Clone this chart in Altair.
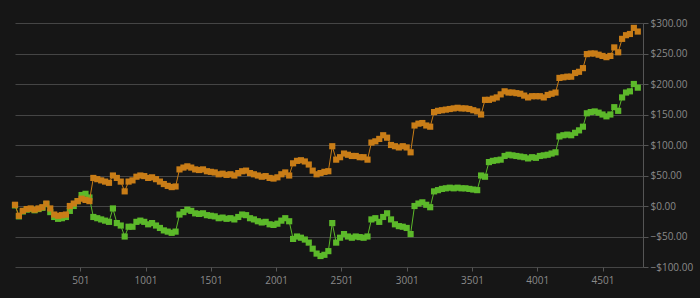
import altair as alt
import pandas as pd

trade = list(range(1, 4772, 30))

orange = [2, -16, -8, -5, -4, -6, -4, -2, 4, -4,
          -14, -16, -15, -14, 0, 4, 8, 12, 10, 8,
          46, 44, 42, 40, 38, 50, 46, 40, 24, 40,
          42, 48, 50, 49, 46, 47, 44, 40, 36, 33,
          31, 32, 60, 63, 65, 63, 60, 59, 60, 57,
          56, 55, 52, 53, 51, 52, 50, 54, 57, 58,
          54, 52, 50, 48, 49, 46, 45, 47, 52, 55,
          50, 70, 74, 75, 73, 68, 58, 52, 54, 56,
          57, 98, 76, 80, 86, 84, 82, 82, 80, 80,
          76, 104, 106, 110, 116, 112, 100, 98, 96, 98,
          96, 88, 132, 135, 136, 132, 130, 154, 156, 157,
          158, 159, 160, 161, 160, 160, 159, 157, 155, 150,
          174, 174, 176, 178, 183, 188, 186, 186, 185, 184,
          181, 178, 180, 180, 180, 178, 182, 184, 186, 210,
          211, 212, 212, 218, 220, 226, 249, 250, 250, 248,
          246, 244, 246, 260, 252, 274, 280, 282, 292, 286]

green = [1, -17, -9, -6, -5, -7, -5, -3, 3, -10,
         -18, -21, -20, -18, -8, 0, 8, 18, 20, 14,
         -18, -20, -22, -24, -26, -4, -28, -32, -50, -34,
         -34, -26, -24, -26, -30, -28, -32, -36, -40, -42,
         -44, -42, -14, -10, -6, -8, -12, -13, -12, -15,
         -16, -17, -20, -19, -21, -20, -22, -18, -14, -15,
         -20, -22, -25, -27, -26, -30, -31, -29, -24, -20,
         -25, -54, -50, -52, -55, -60, -70, -78, -82, -80,
         -74, -28, -60, -52, -46, -50, -52, -50, -51, -52,
         -50, -22, -20, -26, -18, -12, -22, -30, -33, -34,
         -36, -46, 0, 4, 6, 2, -2, 24, 26, 28,
         29, 30, 29, 30, 29, 29, 28, 27, 26, 50,
         48, 72, 74, 75, 76, 82, 84, 83, 82, 81,
         80, 78, 80, 79, 82, 83, 84, 86, 88, 114,
         116, 117, 116, 120, 124, 130, 152, 154, 155, 153,
         150, 147, 150, 162, 156, 178, 186, 188, 200, 194]

x_ticks = [501, 1001, 1501, 2001, 2501, 3001, 3501, 4001, 4501]
y_ticks = [-100, -50, 0, 50, 100, 150, 200, 250, 300]

df_o = pd.DataFrame({"trade": trade, "pnl": orange})
df_g = pd.DataFrame({"trade": trade, "pnl": green})

xs = alt.X("trade:Q", scale=alt.Scale(domain=[1, 4811], nice=False, zero=False),
           axis=alt.Axis(values=x_ticks, format="d", title=None, grid=False, domain=False,
                         tickColor="#555555", tickSize=4, labelColor="#8a8a8a",
                         labelFont="Open Sans", labelFontSize=10, labelPadding=4))
ys = alt.Y("pnl:Q", scale=alt.Scale(domain=[-100, 300], nice=False, zero=False),
           axis=alt.Axis(orient="right", values=y_ticks, format="$,.2f", title=None,
                         grid=True, gridColor="#454545", gridWidth=1,
                         domain=True, domainColor="#555555",
                         tickColor="#555555", tickSize=5, labelColor="#8a8a8a",
                         labelFont="Open Sans", labelFontSize=10, labelPadding=2))

GREEN = "#5cb92a"
ORANGE = "#c97d17"

def series(df, color):
    base = alt.Chart(df).encode(x=xs, y=ys)
    line = base.mark_line(color=color, strokeWidth=1)
    pts = base.mark_square(color=color, size=38, opacity=1)
    return line + pts

chart = alt.layer(series(df_g, GREEN), series(df_o, ORANGE)).properties(
    width=628, height=244,
    background="#161616",
    padding={"left": 15, "top": 23, "right": 57, "bottom": 31},
    autosize=alt.AutoSizeParams(type="none"),
).configure_view(stroke=None, fill="#161616")

chart.save("out.html", embed_options={"renderer": "svg", "actions": False})
